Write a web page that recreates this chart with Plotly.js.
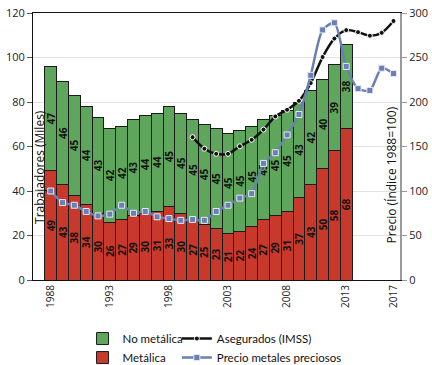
<!DOCTYPE html>
<html>
<head>
<meta charset="utf-8">
<script src="https://cdn.plot.ly/plotly-3.0.1.min.js"></script>
<style>html,body{margin:0;padding:0;background:#fff;}#chart{width:432px;height:365px;}</style>
</head>
<body>
<div id="chart"></div>
<script>
const barYears = [1988,1989,1990,1991,1992,1993,1994,1995,1996,1997,1998,1999,2000,2001,2002,2003,2004,2005,2006,2007,2008,2009,2010,2011,2012,2013];
const metalica = [49,43,38,34,30,26,27,29,30,31,33,30,27,25,23,21,22,24,27,29,31,37,43,50,58,68];
const noMetalica = [47,46,45,44,43,42,42,43,44,44,45,45,45,45,45,45,45,45,45,45,45,43,42,40,39,38];
const aseguradosYears = [2000,2001,2002,2003,2004,2005,2006,2007,2008,2009,2010,2011,2012,2013,2014,2015,2016,2017];
const asegurados = [64.2,59.0,56.7,56.7,60.1,63.0,67.6,73.5,76.5,80.5,88.5,100.2,108.5,112.3,111.4,109.8,111.1,116.4];
const precioYears = [1988,1989,1990,1991,1992,1993,1994,1995,1996,1997,1998,1999,2000,2001,2002,2003,2004,2005,2006,2007,2008,2009,2010,2011,2012,2013,2014,2015,2016,2017];
const precio = [100,87,84,77,72,74,84,75,77,71,69,67,68,67,77,84,92,97,131,143,163,186,230,281,289,240,215,213,238,232];
const tickYears = [1988,1993,1998,2003,2008,2013,2017];

const FONT = "'Open Sans', 'Noto Sans', sans-serif";
const LEGFONT = "Lato, 'Open Sans', sans-serif";
const labelFont = {family: FONT, size: 10, color: '#111', weight: 700};

const traces = [
  {type:'bar', name:'Metálica', x:barYears, y:metalica, text:metalica.map(String),
   marker:{color:'#c8392b', line:{color:'#1b1b1b', width:1}},
   textposition:'inside', insidetextanchor:'middle', textangle:-90, constraintext:'none',
   textfont:labelFont, legend:'legend', hoverinfo:'x+y'},
  {type:'bar', name:'No metálica', x:barYears, y:noMetalica, text:noMetalica.map(String),
   marker:{color:'#5ea65b', line:{color:'#1b1b1b', width:1}},
   textposition:'inside', insidetextanchor:'middle', textangle:-90, constraintext:'none',
   textfont:labelFont, legend:'legend', hoverinfo:'x+y'},
  {type:'scatter', mode:'lines+markers', name:'Asegurados (IMSS)', x:aseguradosYears, y:asegurados,
   line:{color:'#111', width:2.5, shape:'spline', smoothing:0.8},
   marker:{color:'#111', size:5, line:{color:'#fff', width:1}}, legend:'legend2'},
  {type:'scatter', mode:'lines+markers', name:'Precio metales preciosos', x:precioYears, y:precio, yaxis:'y2',
   line:{color:'#6a80b3', width:2.5, shape:'spline', smoothing:0.7},
   marker:{color:'#6a80b3', size:6, symbol:'square', line:{color:'#e4e9f5', width:1}}, legend:'legend2'}
];

const layout = {
  width:432, height:365,
  margin:{l:33, r:32, t:13, b:85, autoexpand:false},
  paper_bgcolor:'#fff', plot_bgcolor:'#fff',
  barmode:'stack', bargap:0,
  font:{family:FONT, size:11, color:'#222'},
  showlegend:true,
  xaxis:{range:[1986.5,2017.55], tickvals:tickYears, ticktext:tickYears.map(String), tickangle:-90,
         tickfont:{size:10, color:'#222'}, showgrid:false, zeroline:false, automargin:false,
         showline:true, linecolor:'#111', linewidth:1, mirror:true, ticks:''},
  yaxis:{range:[0,120], tickvals:[0,20,40,60,80,100,120], showgrid:true, gridcolor:'#e2e2e2', gridwidth:1,
         zeroline:false, showline:true, linecolor:'#111', linewidth:1, ticks:'outside', ticklen:5, automargin:false,
         tickcolor:'#555', tickfont:{size:11, color:'#222'}},
  yaxis2:{range:[0,300], tickvals:[0,50,100,150,200,250,300], overlaying:'y', side:'right', showgrid:false,
          zeroline:false, showline:true, linecolor:'#9a9a9a', linewidth:2, ticks:'outside', ticklen:5, automargin:false,
          tickcolor:'#9a9a9a', tickfont:{size:11, color:'#222'}},
  legend:{x:0.135, xanchor:'left', y:-0.165, yanchor:'top', orientation:'v', bgcolor:'rgba(0,0,0,0)',
          font:{family:LEGFONT, size:11.5, color:'#111'}, itemwidth:30, traceorder:'reversed'},
  legend2:{x:0.392, xanchor:'left', y:-0.165, yanchor:'top', orientation:'v', bgcolor:'rgba(0,0,0,0)',
           font:{family:LEGFONT, size:11.5, color:'#111'}, itemwidth:30},
  annotations:[
    {text:'Trabajadores (Miles)', xref:'paper', yref:'paper', x:0.016, y:0.423, textangle:-90,
     showarrow:false, font:{size:12, color:'#111'}, xanchor:'center', yanchor:'middle'},
    {text:'Precio (Índice 1988=100)', xref:'paper', yref:'paper', x:0.978, y:0.395, textangle:-90,
     showarrow:false, font:{size:12, color:'#111'}, xanchor:'center', yanchor:'middle'}
  ]
};

Plotly.newPlot('chart', traces, layout, {staticPlot:true, displayModeBar:false});
</script>
</body>
</html>
